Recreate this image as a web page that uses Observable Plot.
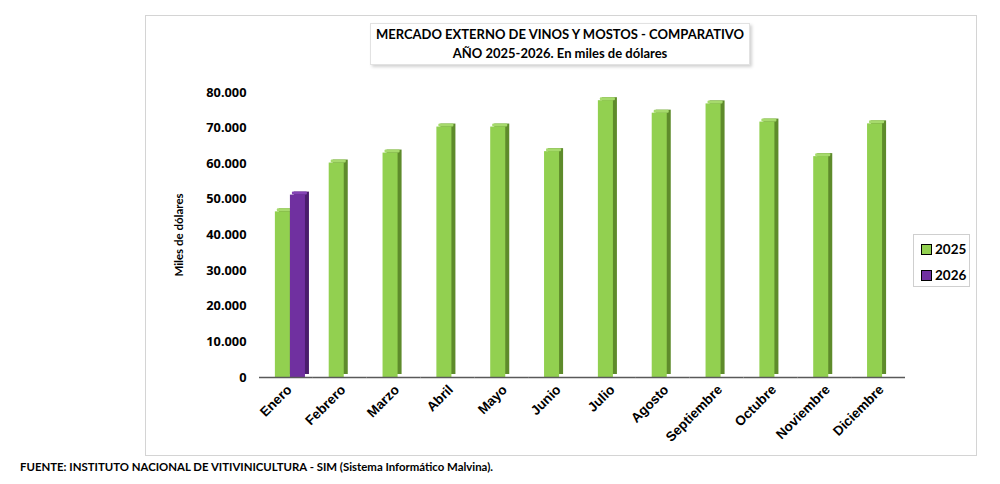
<!DOCTYPE html>
<html>
<head>
<meta charset="utf-8">
<script src="https://cdn.jsdelivr.net/npm/d3@7"></script>
<script src="https://cdn.jsdelivr.net/npm/@observablehq/plot@0.6"></script>
<style>
  body { margin: 0; background: #fff; }
  #wrap { position: relative; width: 1000px; height: 484px; font-family: Lato, "Open Sans", sans-serif; overflow: hidden; }
  #frame { position: absolute; left: 145px; top: 15px; width: 832px; height: 441px; border: 1px solid #d4d4d4; box-sizing: border-box; }
  #chart { position: absolute; left: 0; top: 0; }
  #title { position: absolute; left: 370px; top: 23px; width: 380px; height: 42px; box-sizing: border-box;
           border: 1px solid #e2e2e2; box-shadow: 2px 2px 3px rgba(0,0,0,0.18); background: #fff;
           text-align: center; font-weight: bold; font-size: 13px; line-height: 19px; padding-top: 1px; color: #000; white-space: nowrap; }
  #ylabel { position: absolute; left: 178px; top: 235px; transform: translate(-50%, -50%) rotate(-90deg);
            font-weight: bold; font-size: 11.5px; white-space: nowrap; color: #000; }
  #legend { position: absolute; left: 913px; top: 234px; width: 57px; height: 53px; box-sizing: border-box;
            border: 1px solid #cfcfcf; background: #fff; }
  .item { position: absolute; left: 7px; font-weight: bold; font-size: 13.5px; line-height: 14px; color: #000; }
  .sw { display: inline-block; width: 9px; height: 9px; border: 1px solid #000; margin-right: 3px; vertical-align: -1px; }
  #source { position: absolute; left: 20px; top: 460px; font-weight: bold; font-size: 11.4px; white-space: nowrap; color: #000; }
</style>
</head>
<body>
<div id="wrap">
  <div id="frame"></div>
  <div id="chart"></div>
  <div id="title">MERCADO EXTERNO DE VINOS Y MOSTOS - COMPARATIVO<br>AÑO 2025-2026. En miles de dólares</div>
  <div id="ylabel">Miles de dólares</div>
  <div id="legend"></div>
  <div id="source">FUENTE: INSTITUTO NACIONAL DE VITIVINICULTURA - SIM (Sistema Informático Malvina).</div>
</div>
<script>
const months = ["Enero","Febrero","Marzo","Abril","Mayo","Junio","Julio","Agosto","Septiembre","Octubre","Noviembre","Diciembre"];
const years = ["2025","2026"];
const values2025 = [46500, 60200, 63000, 70300, 70300, 63400, 77700, 74200, 76800, 71700, 62000, 71200];
const values2026 = [51200];
const yTicks = [0, 10000, 20000, 30000, 40000, 50000, 60000, 70000, 80000];
const yearColors = ["#92d050", "#7030a0"];
const sideColors = ["#5e8b2b", "#4a1d6c"];
const capColors = ["#a6da6c", "#8443b5"];

const data2025 = values2025.map((v, i) => ({month: months[i], year: years[0], value: v}));
const data2026 = values2026.map((v, i) => ({month: months[i], year: years[1], value: v}));
const series = [data2025, data2026];

const fmt = d => d3.format(",")(d).replace(/,/g, ".");

const barMarks = series.flatMap((d, k) => [
  Plot.barY(d, {fx: "month", x: "year", y: "value", fill: sideColors[k], dx: 8, dy: -3}),
  Plot.barY(d, {fx: "month", x: "year", y: "value", fill: yearColors[k], dx: 4}),
  Plot.barY(d, {fx: "month", x: "year", y1: "value", y2: "value", fill: capColors[k], dx: 6, insetTop: -3, rx: 1})
]);

const chart = Plot.plot({
  width: 1000,
  height: 484,
  marginLeft: 259,
  marginRight: 95,
  marginTop: 92,
  marginBottom: 107,
  style: {background: "transparent", color: "#000"},
  fx: {domain: months, padding: 0, round: false, label: null},
  x: {domain: years, paddingInner: 0, paddingOuter: 0.79, round: false, axis: null},
  y: {domain: [0, 80000], label: null},
  marks: [
    ...barMarks,
    Plot.ruleY([0], {stroke: "#595959", strokeWidth: 1.5}),
    Plot.axisY({ticks: yTicks, tickFormat: fmt, tickSize: 0, tickPadding: 13, line: true,
                stroke: "#8c8c8c", fill: "#000", fontSize: 12.8, fontWeight: "bold", label: null}),
    Plot.axisFx({anchor: "bottom", tickRotate: -45, tickSize: 0, tickPadding: 10, dx: 3,
                 fontSize: 13.5, fontWeight: "bold", fontFamily: "Liberation Sans, Arial, sans-serif", label: null})
  ]
});
document.getElementById("chart").appendChild(chart);

const legend = document.getElementById("legend");
years.forEach((y, k) => {
  const it = document.createElement("div");
  it.className = "item";
  it.style.top = (k === 0 ? 7 : 33) + "px";
  it.innerHTML = `<span class="sw" style="background:${yearColors[k]}"></span>${y}`;
  legend.appendChild(it);
});
</script>
</body>
</html>
